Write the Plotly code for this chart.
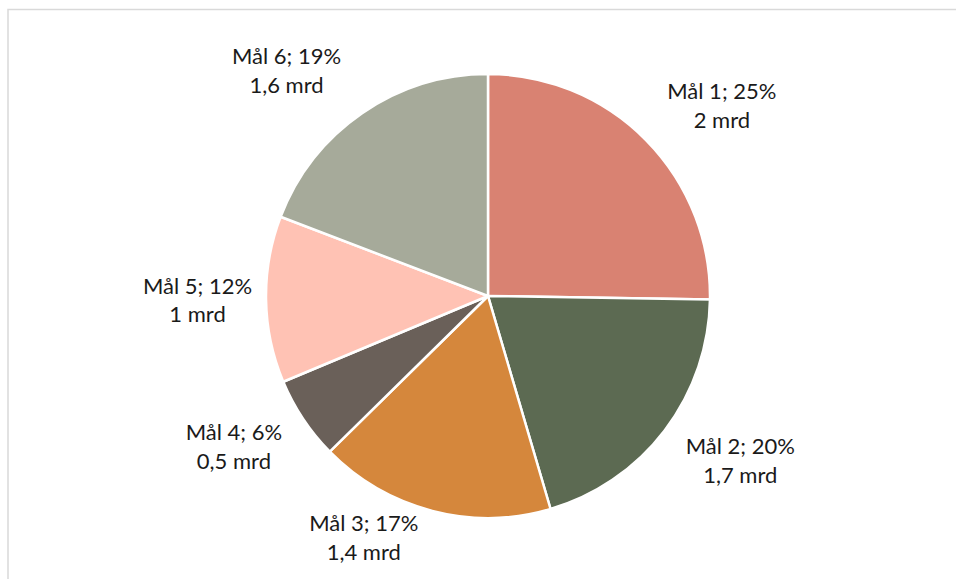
import plotly.graph_objects as go

labels = ["Mål 1", "Mål 2", "Mål 3", "Mål 4", "Mål 5", "Mål 6"]
shares = [25, 20, 17, 6, 12, 19]
amounts = ["2", "1,7", "1,4", "0,5", "1", "1,6"]
colors = ["#D98272", "#5C6A52", "#D5873C", "#6A6059", "#FFC2B4", "#A6AA9A"]
# spacer lines nudge the outside labels away from the pie, like the original layout
pad_before = [False, True, False, True, False, False]
pad_after = [True, False, False, False, False, True]

W, H = 956, 579
cx, cy, r = 488, 296, 222

texts = []
for l, s, a, pb, pa in zip(labels, shares, amounts, pad_before, pad_after):
    t = f"{l}; {s}%<br>{a} mrd"
    if pb:
        t = "\u00a0<br>" + t
    if pa:
        t = t + "<br>\u00a0"
    texts.append(t)

fig = go.Figure(go.Pie(
    labels=labels,
    values=shares,
    text=texts,
    textinfo="text",
    textposition="outside",
    sort=False,
    direction="clockwise",
    rotation=0,
    marker=dict(colors=colors, line=dict(color="white", width=2.5)),
    textfont=dict(family="Lato, 'Open Sans', sans-serif", size=22, color="#1a1a1a"),
    showlegend=False,
    hoverinfo="label+percent",
    domain=dict(x=[(cx - r) / W, (cx + r) / W], y=[1 - (cy + r) / H, 1 - (cy - r) / H]),
))

x0 = 8 / W
ytop = 1 - 9.5 / H
fig.update_layout(
    width=W, height=H,
    margin=dict(l=0, r=0, t=0, b=0),
    paper_bgcolor="white",
    plot_bgcolor="white",
    shapes=[dict(type="path", xref="paper", yref="paper",
                 path=f"M {x0},-0.2 L {x0},{ytop} L 1.2,{ytop}",
                 line=dict(color="#D9D9D9", width=1.5), layer="below")],
)

fig.write_html("out.html",
               config={"displayModeBar": False},
               post_script="document.body.style.margin='0px';document.body.style.overflow='hidden';")
